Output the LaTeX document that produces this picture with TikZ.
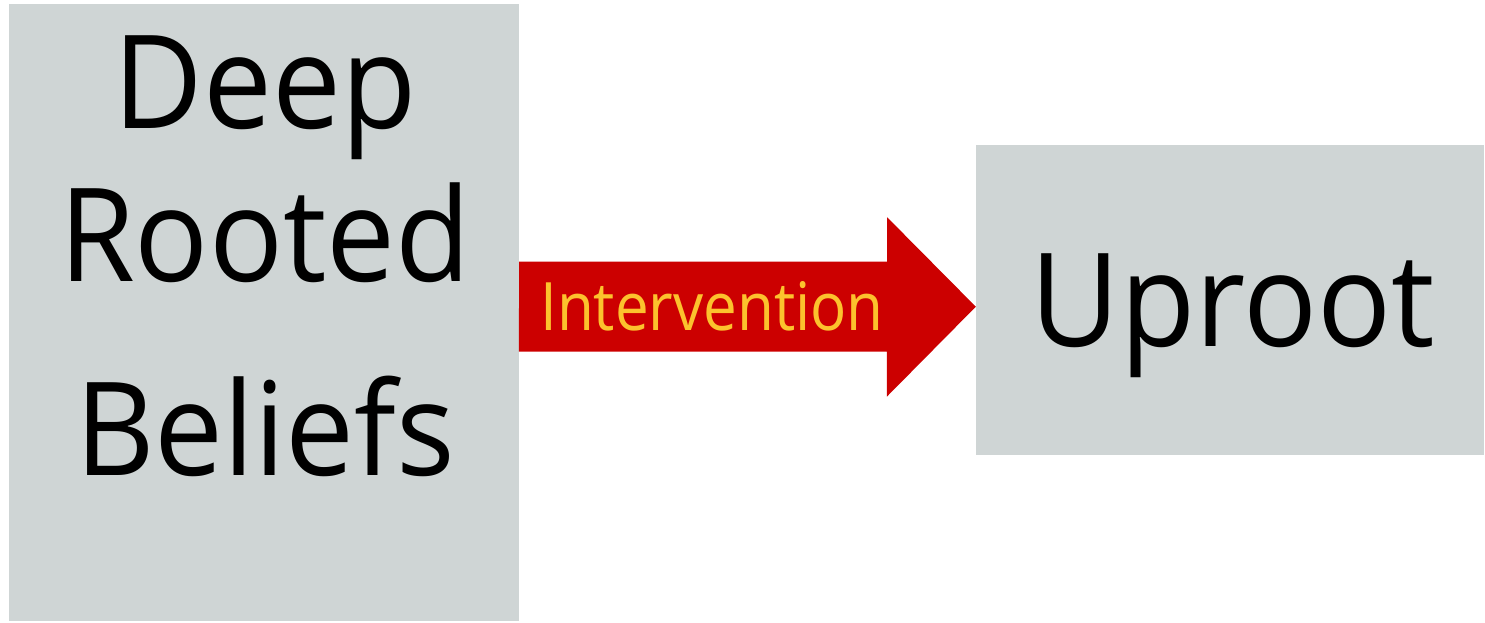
\documentclass[tikz,border=0pt]{standalone}
\usepackage{fontspec}
\setmainfont[FakeStretch=0.945]{Open Sans}
\newfontfamily\arrowfont[FakeStretch=0.90]{Open Sans}
\usepackage{xcolor}
\usepackage{tikz}

\begin{document}
\begin{tikzpicture}[x=1pt,y=1pt,yscale=-1,xscale=1,
  greybox/.style={fill={rgb, 255:red, 207; green, 213; blue, 213 },draw=none,inner sep=0pt},
  bigtext/.style={inner sep=0pt,align=center,font=\fontsize{130}{153.4}\selectfont}]
\useasboundingbox (0,0) rectangle (1485,622);

%Shape: Rectangle
\node [greybox,minimum width=510.5,minimum height=616.5] (beliefs) at (263.75,312.25) {};
%Shape: Rectangle
\node [greybox,minimum width=508,minimum height=310.5] (uproot) at (1230,300) {};
\coordinate (axis) at (700,306.7);

%Right Arrow
\fill [fill={rgb, 255:red, 204; green, 0; blue, 0 }] (beliefs.east |- axis) ++(0,-45) -- ++(368,0) -- ++(0,-44.4) -- (uproot.west |- axis) -- ++(-89,90) -- ++(0,-45) -- ++(-368,0) -- cycle ;

% Text Node
\node [bigtext,anchor=north] (beliefstext) at (265,35.3) {Deep\\Rooted\\[40pt]Beliefs};
% Text Node
\node [bigtext,text height=93,text depth=0] (uproottext) at (1233,299.5) {Uproot};
% Text Node
\node [inner sep=0pt,text height=47.7,text depth=0,font=\arrowfont\fontsize{66.8}{80}\selectfont,text={rgb, 255:red, 252; green, 194; blue, 45 }] (interventiontext) at (712,307) {Intervention};

\end{tikzpicture}
\end{document}
